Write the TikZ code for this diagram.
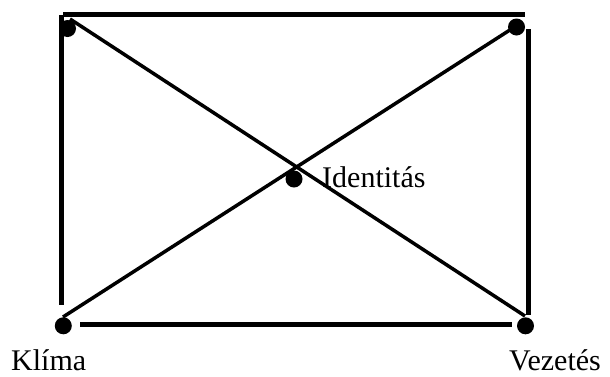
\documentclass[tikz,border=0pt]{standalone}
\usepackage{fontspec}
\setmainfont{Liberation Serif}
\begin{document}
\begin{tikzpicture}[x=1pt,y=-1pt,
  dot/.style={circle,fill=black,inner sep=0pt,minimum size=17pt},
  side/.style={line width=5pt},
  diag/.style={line width=3.5pt},
  lbl/.style={inner sep=0pt,font=\fontsize{30}{32}\selectfont}]
\useasboundingbox (0,0) rectangle (610,376);
% dots
\node[dot] (tl) at (67.5,28.5) {};
\node[dot] (tr) at (516.5,27) {};
\node[dot] (bl) at (63.3,325.8) {};
\node[dot] (br) at (525.5,325.8) {};
\node[dot] (c) at (294,179) {};
% line end points
\coordinate (t1) at (63,14);
\coordinate (t2) at (525,14);
\coordinate (l1) at (61,15);
\coordinate (l2) at (61,305);
\coordinate (r1) at (528,29);
\coordinate (r2) at (528,315);
\coordinate (b1) at (80,324.5);
\coordinate (b2) at (512,324.5);
\coordinate (d1a) at (70,19);
\coordinate (d1b) at (525,316);
\coordinate (d2a) at (63,317);
\coordinate (d2b) at (513,28);
\draw[side] (t1) -- (t2);
\draw[side] (l1) -- (l2);
\draw[side] (r1) -- (r2);
\draw[side] (b1) -- (b2);
\draw[diag] (d1a) -- (d1b);
\draw[diag] (d2a) -- (d2b);
% labels
\node[lbl,anchor=base west] (id) at (322,187) {Identitás};
\node[lbl,anchor=base west] (kl) at (11,370.5) {Klíma};
\node[lbl,anchor=base west] (vz) at (509,370.5) {Vezetés};
\end{tikzpicture}
\end{document}
